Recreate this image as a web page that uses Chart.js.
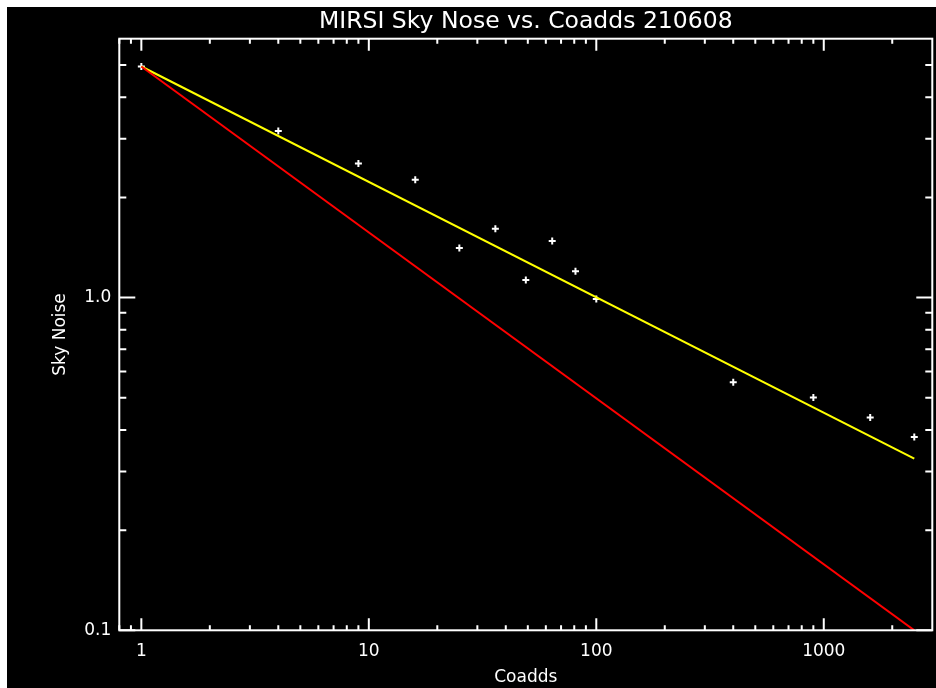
<!DOCTYPE html>
<html>
<head>
<meta charset="utf-8">
<script src="https://cdn.jsdelivr.net/npm/chart.js@4/dist/chart.umd.min.js"></script>
<style>
  body { margin: 0; background: #ffffff; }
  #wrap { position: absolute; left: 7px; top: 7px; width: 929px; height: 681px; }
</style>
</head>
<body>
<div id="wrap"><canvas id="noiseChart"></canvas></div>
<script>
// measured sky noise per number of coadds
const coadds = [1, 4, 9, 16, 25, 36, 49, 64, 81, 100, 400, 900, 1600, 2500];
const skyNoise = [4.95, 3.17, 2.53, 2.26, 1.41, 1.61, 1.13, 1.48, 1.20, 0.99, 0.557, 0.501, 0.436, 0.381];

// fitted line (yellow) and ideal 1/sqrt(N) line (red)
const lineX = [1, 2500];
const fitNoise = [4.95, 0.328];
const idealNoise = [4.95, 0.1];

// axis ticks
const xMajorTicks = [1, 10, 100, 1000];
const xTickLabels = ["1", "10", "100", "1000"];
const yMajorTicks = [0.1, 1.0];
const yTickLabels = ["0.1", "1.0"];

const xMin = 0.8, xMax = 3000;
const yMin = 0.1, yMax = 6;

function minorTicks(lo, hi) {
  const out = [];
  for (let d = 0.01; d <= hi; d *= 10) {
    for (let m = 2; m <= 9; m++) {
      const v = +(m * d).toPrecision(3);
      if (v >= lo && v < hi) out.push(v);
    }
  }
  return out;
}

function toPoints(xs, ys) {
  return xs.map((x, i) => ({ x: x, y: ys[i] }));
}

// black plotting background, like the IDL window
const blackBg = {
  id: "blackBg",
  beforeDraw(chart) {
    const ctx = chart.ctx;
    ctx.save();
    ctx.fillStyle = "#000000";
    ctx.fillRect(0, 0, chart.width, chart.height);
    ctx.restore();
  },
};

// box frame with inward ticks on all four sides
const idlFrame = {
  id: "idlFrame",
  afterDatasetsDraw(chart) {
    const ctx = chart.ctx;
    const a = chart.chartArea;
    const xs = chart.scales.x;
    const ys = chart.scales.y;
    ctx.save();
    ctx.strokeStyle = "#ffffff";
    ctx.lineWidth = 2;
    ctx.strokeRect(a.left, a.top, a.right - a.left, a.bottom - a.top);

    ctx.beginPath();
    const xTick = (v, len) => {
      const px = xs.getPixelForValue(v);
      ctx.moveTo(px, a.bottom); ctx.lineTo(px, a.bottom - len);
      ctx.moveTo(px, a.top); ctx.lineTo(px, a.top + len);
    };
    const yTick = (v, len) => {
      const py = ys.getPixelForValue(v);
      ctx.moveTo(a.left, py); ctx.lineTo(a.left + len, py);
      ctx.moveTo(a.right, py); ctx.lineTo(a.right - len, py);
    };
    xMajorTicks.forEach((v) => xTick(v, 12));
    minorTicks(xMin, xMax).forEach((v) => xTick(v, 5));
    yMajorTicks.forEach((v) => yTick(v, 16));
    minorTicks(yMin, yMax).forEach((v) => yTick(v, 7));
    ctx.stroke();
    ctx.restore();
  },
};

const ctx = document.getElementById("noiseChart").getContext("2d");

new Chart(ctx, {
  type: "scatter",
  data: {
    datasets: [
      {
        label: "ideal",
        data: toPoints(lineX, idealNoise),
        showLine: true,
        borderColor: "#ff0000",
        borderWidth: 2,
        pointRadius: 0,
      },
      {
        label: "fit",
        data: toPoints(lineX, fitNoise),
        showLine: true,
        borderColor: "#ffff00",
        borderWidth: 2,
        pointRadius: 0,
      },
      {
        label: "Sky Noise",
        data: toPoints(coadds, skyNoise),
        showLine: false,
        pointStyle: "cross",
        pointRadius: 3.5,
        borderColor: "#ffffff",
        backgroundColor: "#ffffff",
        borderWidth: 2,
      },
    ],
  },
  options: {
    responsive: true,
    maintainAspectRatio: false,
    animation: false,
    layout: { autoPadding: false, padding: { left: 0, right: 3.7, top: 0, bottom: 0 } },
    plugins: {
      legend: { display: false },
      tooltip: { enabled: false },
      title: {
        display: true,
        fullSize: false,
        text: "MIRSI Sky Nose vs. Coadds 210608",
        color: "#ffffff",
        font: { family: "DejaVu Sans", size: 23.5, weight: "normal" },
        padding: { top: 0.5, bottom: 3 },
      },
    },
    scales: {
      x: {
        type: "logarithmic",
        min: xMin,
        max: xMax,
        bounds: "data",
        grid: { display: false, drawTicks: false },
        border: { display: false },
        afterBuildTicks: (scale) => {
          scale.ticks = xMajorTicks.map((v) => ({ value: v }));
        },
        afterFit: (scale) => { scale.height = 57.7; },
        ticks: {
          color: "#ffffff",
          font: { family: "DejaVu Sans", size: 17 },
          padding: 11,
          autoSkip: false,
          maxRotation: 0,
          callback: (v) => xTickLabels[xMajorTicks.indexOf(v)],
        },
        title: {
          display: true,
          text: "Coadds",
          color: "#ffffff",
          font: { family: "DejaVu Sans", size: 17 },
          padding: { top: 0, bottom: 0 },
        },
      },
      y: {
        type: "logarithmic",
        min: yMin,
        max: yMax,
        bounds: "data",
        grid: { display: false, drawTicks: false },
        border: { display: false },
        afterBuildTicks: (scale) => {
          scale.ticks = yMajorTicks.map((v) => ({ value: v }));
        },
        afterFit: (scale) => { scale.width = 112.3; },
        ticks: {
          color: "#ffffff",
          font: { family: "DejaVu Sans", size: 17 },
          padding: 8,
          autoSkip: false,
          callback: (v) => yTickLabels[yMajorTicks.indexOf(v)],
        },
        title: {
          display: true,
          text: "Sky Noise",
          color: "#ffffff",
          font: { family: "DejaVu Sans", size: 17 },
          padding: { top: 43.8, bottom: 0 },
        },
      },
    },
  },
  plugins: [blackBg, idlFrame],
});
</script>
</body>
</html>
